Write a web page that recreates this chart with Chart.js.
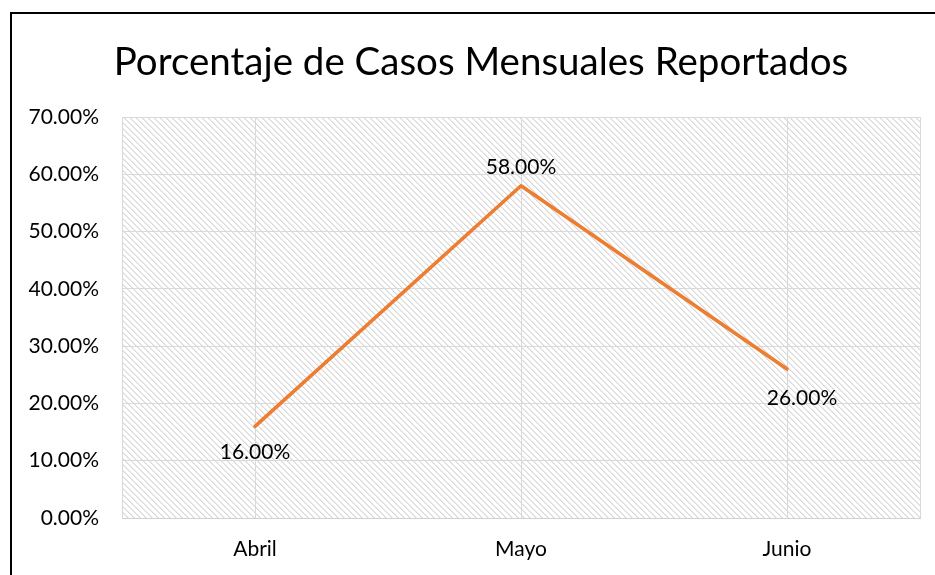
<!DOCTYPE html>
<html><head><meta charset="utf-8">
<script src="https://cdn.jsdelivr.net/npm/chart.js@4/dist/chart.umd.min.js"></script>
<style>
html,body{margin:0;padding:0;background:#fff;overflow:hidden;width:935px;height:575px}
#wrap{position:absolute;left:0;top:0;width:935px;height:575px;overflow:hidden}
#frame{position:absolute;left:10px;top:12px;width:1000px;height:1000px;border-left:2px solid #000;border-top:2px solid #000;pointer-events:none}
</style></head><body>
<div id="wrap"><canvas id="c" width="962" height="575"></canvas></div>
<div id="frame"></div>
<script>
const chartTitle = "Porcentaje de Casos Mensuales Reportados";
const months = ["Abril", "Mayo", "Junio"];
const percentValues = [16, 58, 26];
const yTickMin = 0;
const yTickMax = 70;
const yTickStep = 10;

const FONT = "Lato";

function makeHatch() {
  const t = document.createElement('canvas');
  t.width = 6; t.height = 6;
  const g = t.getContext('2d');
  g.fillStyle = '#fff'; g.fillRect(0, 0, 6, 6);
  for (let y = 0; y < 6; y++) {
    g.fillStyle = '#d8d8d8'; g.fillRect(y % 6, y, 1, 1);
    g.fillStyle = '#ebebeb'; g.fillRect((y + 1) % 6, y, 1, 1);
  }
  return t;
}

const hatchPlugin = {
  id: 'hatch',
  beforeDraw(chart) {
    const {ctx, chartArea: a} = chart;
    ctx.save();
    ctx.fillStyle = ctx.createPattern(makeHatch(), 'repeat');
    ctx.fillRect(a.left, a.top, a.right - a.left, a.bottom - a.top);
    ctx.restore();
  },
  afterDraw(chart) {
    const {ctx, chartArea: a} = chart;
    ctx.save();
    ctx.strokeStyle = '#d9d9d9';
    ctx.lineWidth = 1;
    ctx.beginPath();
    ctx.moveTo(Math.round(a.right) + 0.5, a.top);
    ctx.lineTo(Math.round(a.right) + 0.5, a.bottom);
    ctx.stroke();
    ctx.restore();
  }
};

const labelPlugin = {
  id: 'valueLabels',
  afterDatasetsDraw(chart, args, opts) {
    const {ctx} = chart;
    const meta = chart.getDatasetMeta(0);
    ctx.save();
    ctx.font = `21px ${FONT}`;
    ctx.fillStyle = '#000';
    ctx.textAlign = 'center';
    ctx.textBaseline = 'middle';
    meta.data.forEach((pt, i) => {
      const off = opts.offsets[i];
      const v = chart.data.datasets[0].data[i];
      ctx.fillText(v.toFixed(2) + '%', pt.x + off.dx, pt.y + off.dy);
    });
    ctx.restore();
  }
};

function build() {
  new Chart(document.getElementById('c'), {
    type: 'line',
    data: {
      labels: months,
      datasets: [{
        data: percentValues,
        borderColor: '#ED7D31',
        borderWidth: 3.6,
        pointRadius: 0,
        tension: 0,
        borderCapStyle: 'round',
        borderJoinStyle: 'round',
        fill: false,
        yAxisID: 'y'
      }]
    },
    options: {
      responsive: false,
      animation: false,
      layout: {padding: {left: 0, right: 0, top: 0, bottom: 0}},
      plugins: {
        legend: {display: false},
        tooltip: {enabled: false},
        title: {
          display: true,
          text: chartTitle,
          color: '#000',
          font: {family: FONT, size: 38.5, weight: 'normal', lineHeight: 1.2},
          padding: {top: 39, bottom: 31.8}
        },
        valueLabels: {
          offsets: [{dx: 0, dy: 26}, {dx: 0, dy: -19}, {dx: 15, dy: 29}]
        }
      },
      scales: {
        x: {
          offset: true,
          afterFit(s) { s.height = 57; },
          grid: {color: '#d9d9d9', lineWidth: 1, drawTicks: false, offset: false},
          border: {display: true, color: '#d0d0d0', width: 1},
          ticks: {color: '#000', padding: 19, font: {family: FONT, size: 21}}
        },
        y: {
          position: 'left',
          min: yTickMin,
          max: yTickMax,
          afterFit(s) { s.width = 122; },
          grid: {color: '#d9d9d9', lineWidth: 1, drawTicks: false},
          border: {display: true, color: '#d9d9d9', width: 1},
          ticks: {
            stepSize: yTickStep,
            color: '#000',
            padding: 23,
            font: {family: FONT, size: 21},
            callback: v => Number(v).toFixed(2) + '%'
          }
        },
        ySpacer: {
          position: 'right',
          min: 0,
          max: 1,
          afterFit(s) { s.width = 42; },
          grid: {display: false, drawTicks: false},
          border: {display: false},
          ticks: {display: false}
        }
      }
    },
    plugins: [hatchPlugin, labelPlugin]
  });
}

if (document.fonts && document.fonts.load) {
  Promise.all([document.fonts.load(`21px ${FONT}`), document.fonts.load(`38px ${FONT}`)]).then(build, build);
} else build();
</script>
</body></html>
